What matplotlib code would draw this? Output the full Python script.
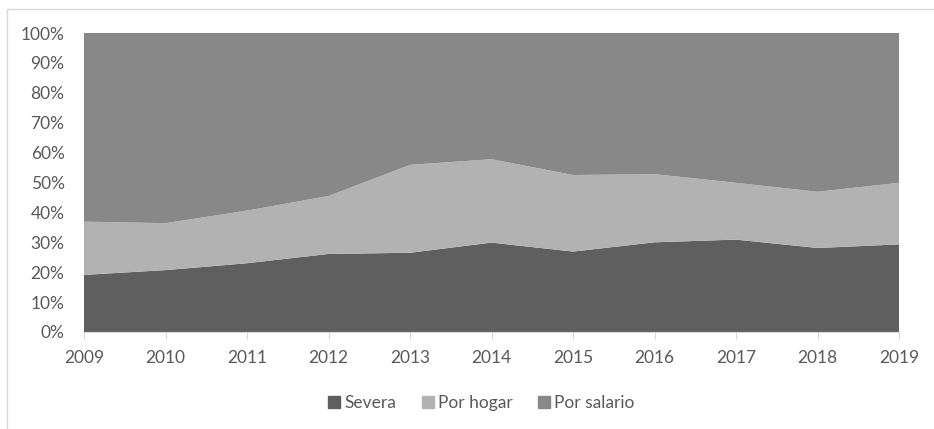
import numpy as np
import matplotlib.pyplot as plt
from matplotlib.patches import Rectangle

years = [2009, 2010, 2011, 2012, 2013, 2014, 2015, 2016, 2017, 2018, 2019]
severa = [19.1, 20.7, 23.0, 26.1, 26.5, 29.9, 26.9, 30.0, 30.9, 28.1, 29.3]
por_hogar = [17.8, 15.7, 17.6, 19.4, 29.4, 27.9, 25.6, 22.8, 19.0, 18.8, 20.6]
por_salario = [63.1, 63.6, 59.4, 54.5, 44.1, 42.2, 47.5, 47.2, 50.1, 53.1, 50.1]

labels = ['Severa', 'Por hogar', 'Por salario']
colors = ['#5f5f5f', '#b2b2b2', '#888888']

plt.rcParams['font.family'] = ['Lato', 'DejaVu Sans']

fig = plt.figure(figsize=(9.34, 4.29), dpi=100)
fig.patches.append(Rectangle((7 / 934, -0.1), 1.2, 1 - 9 / 429 + 0.1,
                             transform=fig.transFigure, fill=False,
                             edgecolor='#d9d9d9', linewidth=1))
ax = fig.add_axes([84 / 934, 97 / 429, 815 / 934, 299 / 429])

data = np.array([severa, por_hogar, por_salario])
data = data / data.sum(axis=0) * 100
ax.stackplot(years, data, colors=colors, labels=labels, linewidth=0)

ax.set_xlim(2009, 2019)
ax.set_ylim(0, 100)
ax.set_xticks(years)
ax.set_yticks(range(0, 101, 10))
ax.set_yticklabels(['{0}%'.format(v) for v in range(0, 101, 10)])

for s in ['top', 'right', 'left']:
    ax.spines[s].set_visible(False)
ax.spines['bottom'].set_color('#d9d9d9')
ax.tick_params(axis='y', length=0, pad=14, labelsize=12.5, labelcolor='#595959')
ax.tick_params(axis='x', length=5, color='#d9d9d9', pad=8, labelsize=12.5,
               labelcolor='#595959')

handles = [plt.Line2D([], [], marker='s', linestyle='none', markersize=8,
                      color=c) for c in colors]
fig.legend(handles, labels, loc='center', bbox_to_anchor=(480 / 934, 1 - 403 / 429),
           ncol=3, frameon=False, fontsize=12.5, labelcolor='#595959',
           handletextpad=0.1, columnspacing=1.3, handlelength=1)

fig.savefig('out.png', dpi=100)
